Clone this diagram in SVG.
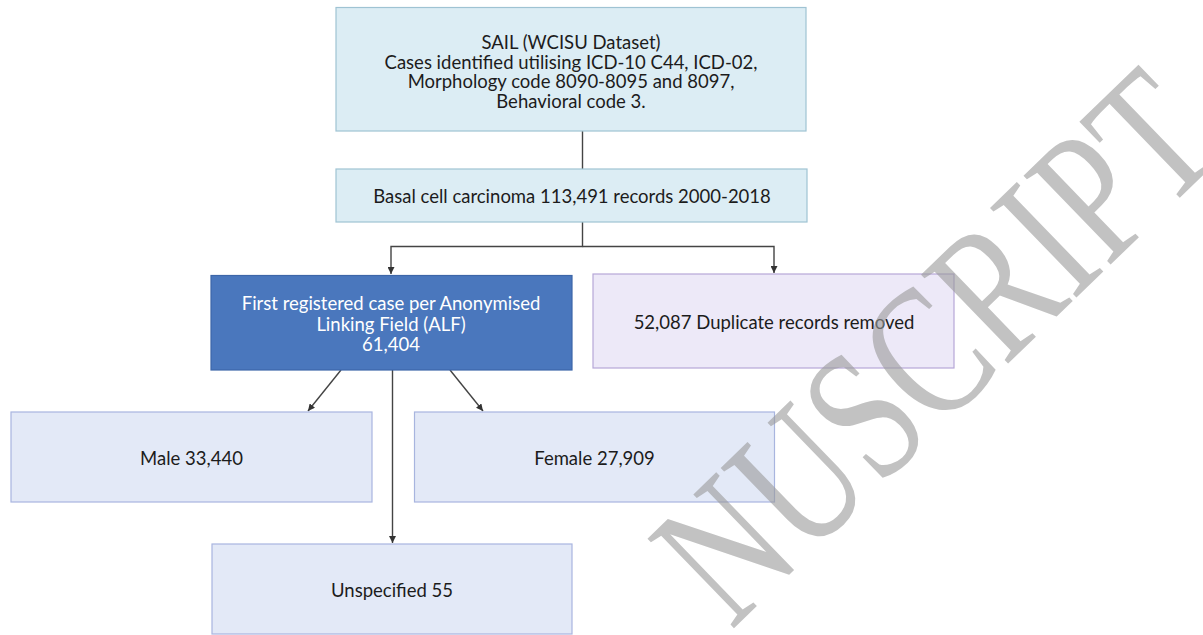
<svg xmlns="http://www.w3.org/2000/svg" width="1203" height="635" viewBox="0 0 1203 635">
<style>
  .t { font-family: Lato, "Liberation Sans", sans-serif; font-size: 18.5px; fill: #1c1c1c; text-anchor: middle; dominant-baseline: central; }
  .tw { fill: #ffffff; }
  .cyan { fill: #dcedf4; stroke: #9fc3d3; stroke-width: 1.2; }
  .lav { fill: #e3e9f7; stroke: #a8b5df; stroke-width: 1.2; }
  .purp { fill: #ede9f8; stroke: #b6a7d7; stroke-width: 1.2; }
  .blue { fill: #4a77bd; stroke: #3d66a8; stroke-width: 1.2; }
  .ln { fill: none; stroke: #444; stroke-width: 1.4; }
  .wm { font-family: "Liberation Serif", serif; font-size: 190px; fill: #9a9a9a; opacity: 0.6; }
</style>
<defs>
  <marker id="ah" viewBox="0 0 10 10" refX="10" refY="5" markerWidth="7" markerHeight="7" markerUnits="userSpaceOnUse" orient="auto">
    <path d="M0,0 L10,5 L0,10 z" fill="#333"/>
  </marker>
</defs>
<rect width="1203" height="635" fill="#ffffff"/>

<g id="connectors">
  <path class="ln" d="M582.5,131 V169"/>
  <path class="ln" d="M582.5,222 V246.5 H391 V274" marker-end="url(#ah)"/>
  <path class="ln" d="M582.5,246.5 H774 V273" marker-end="url(#ah)"/>
  <path class="ln" d="M341,370 L308,411" marker-end="url(#ah)"/>
  <path class="ln" d="M450,370 L483,411" marker-end="url(#ah)"/>
  <path class="ln" d="M392.5,370 V543" marker-end="url(#ah)"/>
</g>

<g id="node-sail">
  <rect class="cyan" x="336" y="7.5" width="470" height="123.5"/>
  <text class="t" x="571" y="42">SAIL (WCISU Dataset)</text>
  <text class="t" x="571" y="61.5">Cases identified utilising ICD-10 C44, ICD-02,</text>
  <text class="t" x="571" y="81">Morphology code 8090-8095 and 8097,</text>
  <text class="t" x="571" y="100.5">Behavioral code 3.</text>
</g>

<g id="node-basal">
  <rect class="cyan" x="336" y="169" width="471" height="53"/>
  <text class="t" x="572" y="196">Basal cell carcinoma 113,491 records 2000-2018</text>
</g>

<g id="node-first">
  <rect class="blue" x="211" y="275.5" width="361" height="94.5"/>
  <text class="t tw" x="391" y="303">First registered case per Anonymised</text>
  <text class="t tw" x="391" y="323.5">Linking Field (ALF)</text>
  <text class="t tw" x="391" y="344">61,404</text>
</g>

<g id="node-duplicate">
  <rect class="purp" x="593" y="274" width="361" height="94"/>
  <text class="t" x="774" y="321.5">52,087 Duplicate records removed</text>
</g>

<g id="node-male">
  <rect class="lav" x="11" y="412" width="361" height="90"/>
  <text class="t" x="191.5" y="457.5">Male 33,440</text>
</g>

<g id="node-female">
  <rect class="lav" x="414.5" y="412" width="360" height="90"/>
  <text class="t" x="594.5" y="457.5">Female 27,909</text>
</g>

<g id="node-unspecified">
  <rect class="lav" x="212" y="544" width="360" height="90"/>
  <text class="t" x="392" y="590">Unspecified 55</text>
</g>

<g id="watermark">
  <text class="wm" transform="translate(731,631) rotate(-44) scale(0.75,1)">NUSCRIPT</text>
</g>
</svg>
